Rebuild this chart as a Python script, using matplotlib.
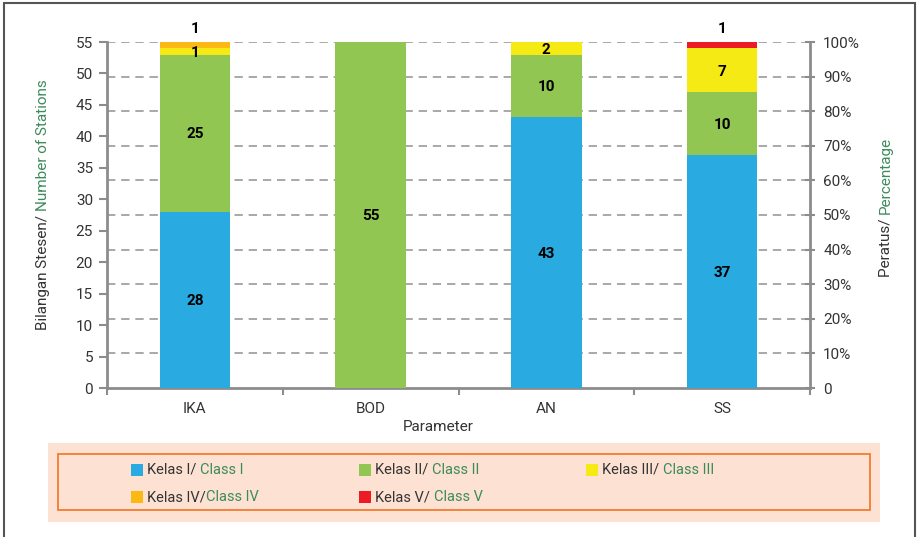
import matplotlib
matplotlib.use("Agg")
import matplotlib.pyplot as plt
import matplotlib.patches as mpatches
from matplotlib.ticker import FixedLocator
import numpy as np

plt.rcParams['font.family'] = ['Roboto', 'DejaVu Sans']

categories = ["IKA", "BOD", "AN", "SS"]
class_i = [28, 0, 43, 37]
class_ii = [25, 55, 10, 10]
class_iii = [1, 0, 2, 7]
class_iv = [1, 0, 0, 0]
class_v = [0, 0, 0, 1]
series = [class_i, class_ii, class_iii, class_iv, class_v]
legend_main = ["Kelas I/ ", "Kelas II/ ", "Kelas III/ ", "Kelas IV/", "Kelas V/ "]
legend_en = ["Class I", "Class II", "Class III", "Class IV", "Class V"]
colors = ["#29abe2", "#92c652", "#f6ea14", "#fdb913", "#ed1c24"]
label_above = [False, False, False, True, True]

W, H = 917, 537
fig = plt.figure(figsize=(W / 100, H / 100), dpi=100)

def fx(px):
    return px / W

def fy(py):
    return 1 - py / H

# outer border
fig.patches.append(mpatches.Rectangle((fx(4), fy(545)), fx(915) - fx(4), fy(3) - fy(545),
                                      transform=fig.transFigure, fill=False,
                                      edgecolor="#555555", linewidth=1.5))

ax = fig.add_axes([fx(107), fy(388), fx(810) - fx(107), fy(42) - fy(388)])
ymax = 55
x = np.arange(len(categories))
bottom = np.zeros(len(categories))
for vals, col, above in zip(series, colors, label_above):
    vals = np.array(vals, dtype=float)
    ax.bar(x, vals, 0.4, bottom=bottom, color=col, zorder=3)
    for xi, v, b in zip(x, vals, bottom):
        if v <= 0:
            continue
        if above:
            ax.text(xi, ymax + 2.0, f"{int(v)}", ha="center", va="center",
                    fontsize=11, fontweight="bold", color="black", zorder=5)
        else:
            ax.text(xi, b + v / 2 - 0.2, f"{int(v)}", ha="center", va="center",
                    fontsize=11, fontweight="bold", color="black", zorder=5)
    bottom = bottom + vals

ax.set_xlim(-0.5, len(categories) - 0.5)
ax.set_ylim(0, ymax)
ax.set_yticks(np.arange(0, 56, 5))
ax.xaxis.set_major_locator(FixedLocator(x))
ax.set_xticklabels(categories)
ax.xaxis.set_minor_locator(FixedLocator(np.arange(-0.5, len(categories), 1)))
ax.tick_params(axis="x", which="major", length=0, pad=10, labelsize=11, labelcolor="#333333")
ax.tick_params(axis="x", which="minor", length=5, width=1.5, color="#8c8c8c", direction="out")
ax.tick_params(axis="y", length=6, width=1.5, color="#8c8c8c", labelsize=11, labelcolor="#333333", pad=4)

for s in ["top", "right"]:
    ax.spines[s].set_visible(False)
for s in ["left", "bottom"]:
    ax.spines[s].set_color("#8c8c8c")
    ax.spines[s].set_linewidth(2)

ax2 = ax.twinx()
ax2.set_ylim(0, 1)
ax2.set_yticks(np.arange(0, 1.01, 0.1))
labels2 = ["0"] + [f"{int(round(v*100))}%" for v in np.arange(0.1, 1.01, 0.1)]
ax2.set_yticklabels(labels2)
ax2.tick_params(axis="y", length=7, width=1.5, color="#8c8c8c", direction="inout",
                labelsize=11, labelcolor="#333333", pad=6)
for s in ["top", "left", "bottom"]:
    ax2.spines[s].set_visible(False)
ax2.spines["right"].set_color("#8c8c8c")
ax2.spines["right"].set_linewidth(2)
ax2.grid(axis="y", color="#999999", linestyle=(0, (5, 3.5)), linewidth=1.2, zorder=0)
ax2.set_zorder(0)
ax.set_zorder(1)
ax.patch.set_visible(False)
ax2.yaxis.get_gridlines()[0].set_visible(False)

fig.text(fx(438), fy(427), "Parameter", ha="center", va="center", fontsize=11, color="#333333")

green = "#3d8b5a"
grey = "#333333"
fig.canvas.draw()
r = fig.canvas.get_renderer()

def two_color_vertical(xc, yc, part1, part2):
    t1 = fig.text(0, 0, part1, rotation=90, fontsize=11, color=grey, ha="center", va="bottom")
    t2 = fig.text(0, 0, part2, rotation=90, fontsize=11, color=green, ha="center", va="bottom")
    h1 = t1.get_window_extent(r).height
    h2 = t2.get_window_extent(r).height
    total = h1 + h2
    ystart = (H - yc) - total / 2
    t1.set_position((fx(xc), ystart / H))
    t2.set_position((fx(xc), (ystart + h1) / H))

two_color_vertical(43, 205, "Bilangan Stesen/ ", "Number of Stations")
two_color_vertical(886, 207, "Peratus/ ", "Percentage")

# legend
fig.patches.append(mpatches.Rectangle((fx(48), fy(522)), fx(880) - fx(48), fy(443) - fy(522),
                                      transform=fig.transFigure, facecolor="#fde2d4",
                                      edgecolor="none", zorder=0))
fig.patches.append(mpatches.Rectangle((fx(58), fy(510)), fx(870) - fx(58), fy(454) - fy(510),
                                      transform=fig.transFigure, facecolor="none",
                                      edgecolor="#f47b30", linewidth=1.3, zorder=1))
col_x = [131, 359, 586]
row_y = [470, 497]
for i, (m, e, c) in enumerate(zip(legend_main, legend_en, colors)):
    cx = col_x[i % 3]
    cy = row_y[i // 3]
    fig.patches.append(mpatches.Rectangle((fx(cx), fy(cy + 6)), fx(12), 12 / H,
                                          transform=fig.transFigure, facecolor=c,
                                          edgecolor="none", zorder=2))
    t1 = fig.text(fx(cx + 16), fy(cy), m, ha="left", va="center", fontsize=10.5, color=grey)
    w1 = t1.get_window_extent(r).width
    fig.text(fx(cx + 16 + w1), fy(cy), e, ha="left", va="center", fontsize=10.5, color=green)

fig.savefig("out.png", dpi=100)
